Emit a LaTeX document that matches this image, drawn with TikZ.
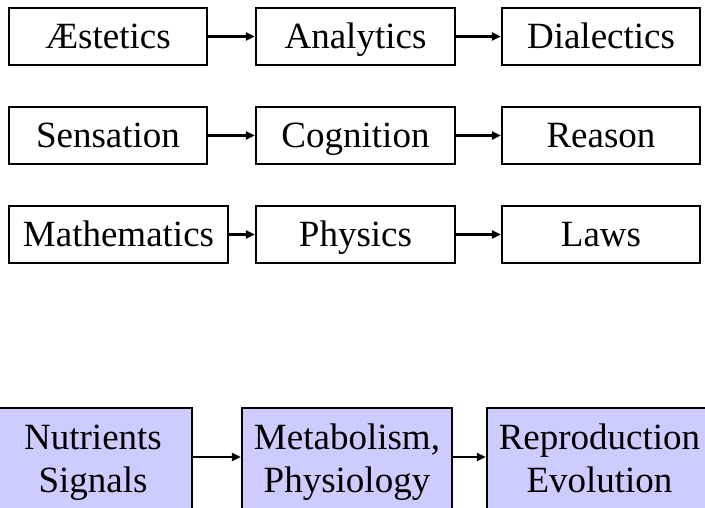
\documentclass[tikz,border=0pt]{standalone}
\usepackage{fontspec}
\setmainfont{Liberation Serif}
\usetikzlibrary{arrows.meta}

\definecolor{lavender}{RGB}{204,204,255}
\newcommand{\boxfont}{\fontsize{37}{43}\selectfont}

\tikzset{
  stage/.style={draw, line width=2.2pt, inner sep=0pt, minimum height=57pt,
    font=\boxfont, text height=24.5pt, text depth=0pt},
  cycle/.style={draw, line width=2.2pt, inner sep=0pt, fill=lavender,
    minimum height=108pt, font=\boxfont, align=center,
    text height=68.3pt, text depth=8pt},
  flow/.style={line width=2.2pt, -{Triangle[length=9pt,width=8pt]}}
}

\begin{document}
\begin{tikzpicture}[x=1pt,y=-1pt]
  \useasboundingbox (0,0) rectangle (705,507);
  \clip (0,0) rectangle (705,507);

  % three chains of stages
  \node[stage, minimum width=198pt] (aes) at (108,36.5)   {Æstetics};
  \node[stage, minimum width=199pt] (ana) at (355.5,36.5) {Analytics};
  \node[stage, minimum width=198pt] (dia) at (601,36.5)   {Dialectics};

  \node[stage, minimum width=198pt] (sen) at (108,135.5)   {Sensation};
  \node[stage, minimum width=199pt] (cog) at (355.5,135.5) {Cognition};
  \node[stage, minimum width=198pt] (rea) at (601,135.5)   {Reason};

  \node[stage, minimum width=219pt] (mat) at (118.5,234.5) {Mathematics};
  \node[stage, minimum width=199pt] (phy) at (355.5,234.5) {Physics};
  \node[stage, minimum width=198pt] (law) at (601,234.5)   {Laws};

  \draw[flow] (aes) -- (ana);
  \draw[flow] (ana) -- (dia);
  \draw[flow] (sen) -- (cog);
  \draw[flow] (cog) -- (rea);
  \draw[flow] (mat) -- (phy);
  \draw[flow] (phy) -- (law);

  % biological chain
  \node[cycle, minimum width=198pt] (nut) at (93,462)    {Nutrients\\Signals};
  \node[cycle, minimum width=210pt] (met) at (347,462)   {Metabolism,\\Physiology};
  \node[cycle, minimum width=225pt] (rep) at (599.5,462) {Reproduction\\Evolution};

  \draw[flow] (nut.east |- 0,457) -- (met.west |- 0,457);
  \draw[flow] (met.east |- 0,457) -- (rep.west |- 0,457);
\end{tikzpicture}
\end{document}
